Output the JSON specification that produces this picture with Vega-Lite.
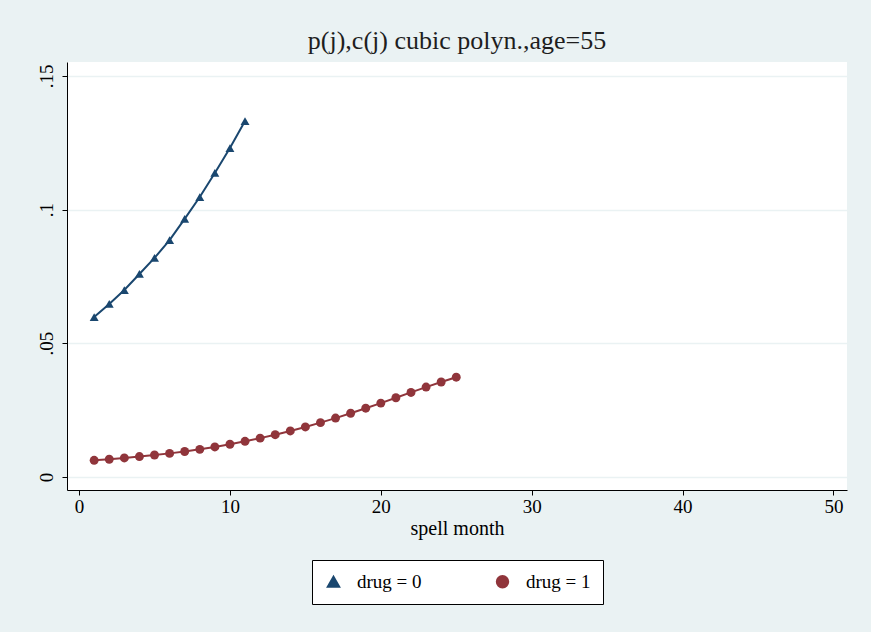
{
  "$schema": "https://vega.github.io/schema/vega-lite/v6.json",
  "autosize": "none",
  "width": 780,
  "height": 428,
  "padding": {"left": 67, "top": 62, "right": 24, "bottom": 142},
  "background": "#eaf2f3",
  "config": {
    "font": "'Liberation Serif', 'Times New Roman', serif",
    "view": {"fill": "white", "stroke": null},
    "axis": {"labelFont": "'Liberation Serif', 'Times New Roman', serif", "titleFont": "'Liberation Serif', 'Times New Roman', serif", "labelFontSize": 19, "titleFontSize": 20, "labelColor": "black", "titleColor": "black", "domainColor": "black", "tickColor": "black", "titleFontWeight": "normal"},
    "legend": {"labelFont": "'Liberation Serif', 'Times New Roman', serif", "labelFontSize": 19, "labelColor": "black", "layout": {"bottom": {"anchor": "middle"}}}
  },
  "title": {"text": "p(j),c(j) cubic polyn.,age=55", "font": "'Liberation Serif', 'Times New Roman', serif", "fontSize": 26, "fontWeight": "normal", "color": "#1e1e1e", "offset": 8},
  "data": {"values": [
    {"month": 1, "p": 0.0598, "drug": "drug = 0"},
    {"month": 2, "p": 0.0647, "drug": "drug = 0"},
    {"month": 3, "p": 0.0699, "drug": "drug = 0"},
    {"month": 4, "p": 0.0759, "drug": "drug = 0"},
    {"month": 5, "p": 0.0819, "drug": "drug = 0"},
    {"month": 6, "p": 0.0886, "drug": "drug = 0"},
    {"month": 7, "p": 0.0965, "drug": "drug = 0"},
    {"month": 8, "p": 0.1047, "drug": "drug = 0"},
    {"month": 9, "p": 0.1137, "drug": "drug = 0"},
    {"month": 10, "p": 0.1230, "drug": "drug = 0"},
    {"month": 11, "p": 0.1331, "drug": "drug = 0"},
    {"month": 1, "p": 0.0062, "drug": "drug = 1"},
    {"month": 2, "p": 0.0066, "drug": "drug = 1"},
    {"month": 3, "p": 0.0071, "drug": "drug = 1"},
    {"month": 4, "p": 0.0076, "drug": "drug = 1"},
    {"month": 5, "p": 0.0082, "drug": "drug = 1"},
    {"month": 6, "p": 0.0088, "drug": "drug = 1"},
    {"month": 7, "p": 0.0095, "drug": "drug = 1"},
    {"month": 8, "p": 0.0103, "drug": "drug = 1"},
    {"month": 9, "p": 0.0112, "drug": "drug = 1"},
    {"month": 10, "p": 0.0122, "drug": "drug = 1"},
    {"month": 11, "p": 0.0133, "drug": "drug = 1"},
    {"month": 12, "p": 0.0145, "drug": "drug = 1"},
    {"month": 13, "p": 0.0158, "drug": "drug = 1"},
    {"month": 14, "p": 0.0172, "drug": "drug = 1"},
    {"month": 15, "p": 0.0187, "drug": "drug = 1"},
    {"month": 16, "p": 0.0203, "drug": "drug = 1"},
    {"month": 17, "p": 0.0220, "drug": "drug = 1"},
    {"month": 18, "p": 0.0238, "drug": "drug = 1"},
    {"month": 19, "p": 0.0257, "drug": "drug = 1"},
    {"month": 20, "p": 0.0276, "drug": "drug = 1"},
    {"month": 21, "p": 0.0296, "drug": "drug = 1"},
    {"month": 22, "p": 0.0316, "drug": "drug = 1"},
    {"month": 23, "p": 0.0336, "drug": "drug = 1"},
    {"month": 24, "p": 0.0355, "drug": "drug = 1"},
    {"month": 25, "p": 0.0373, "drug": "drug = 1"}
  ]},
  "encoding": {
    "x": {"field": "month", "type": "quantitative", "title": "spell month",
      "scale": {"domain": [-0.8, 50.9], "nice": false, "zero": false},
      "axis": {"values": [0, 10, 20, 30, 40, 50], "grid": false, "titlePadding": 2}},
    "y": {"field": "p", "type": "quantitative", "title": null,
      "scale": {"domain": [-0.0049, 0.1552], "nice": false, "zero": false},
      "axis": {"values": [0, 0.05, 0.1, 0.15], "labelExpr": "datum.value == 0 ? '0' : replace(format(datum.value, '.2~f'), '0.', '.')", "labelAngle": -90, "labelAlign": "center", "labelBaseline": "bottom", "labelPadding": 6, "grid": true, "gridColor": "#eaf2f3", "gridWidth": 1.5}},
    "color": {"field": "drug", "type": "nominal",
      "scale": {"domain": ["drug = 0", "drug = 1"], "range": ["#1a476f", "#90353b"]},
      "legend": {"orient": "bottom", "direction": "horizontal", "title": null, "strokeColor": "black", "fillColor": "white", "padding": 12, "offset": 22, "symbolSize": 130, "columnPadding": 70, "labelOffset": 14, "symbolStrokeWidth": 2}},
    "shape": {"field": "drug", "type": "nominal",
      "scale": {"domain": ["drug = 0", "drug = 1"], "range": ["triangle-up", "circle"]}}
  },
  "layer": [
    {"mark": {"type": "line", "strokeWidth": 2}},
    {"mark": {"type": "point", "filled": true, "size": 80, "opacity": 1}}
  ]
}
